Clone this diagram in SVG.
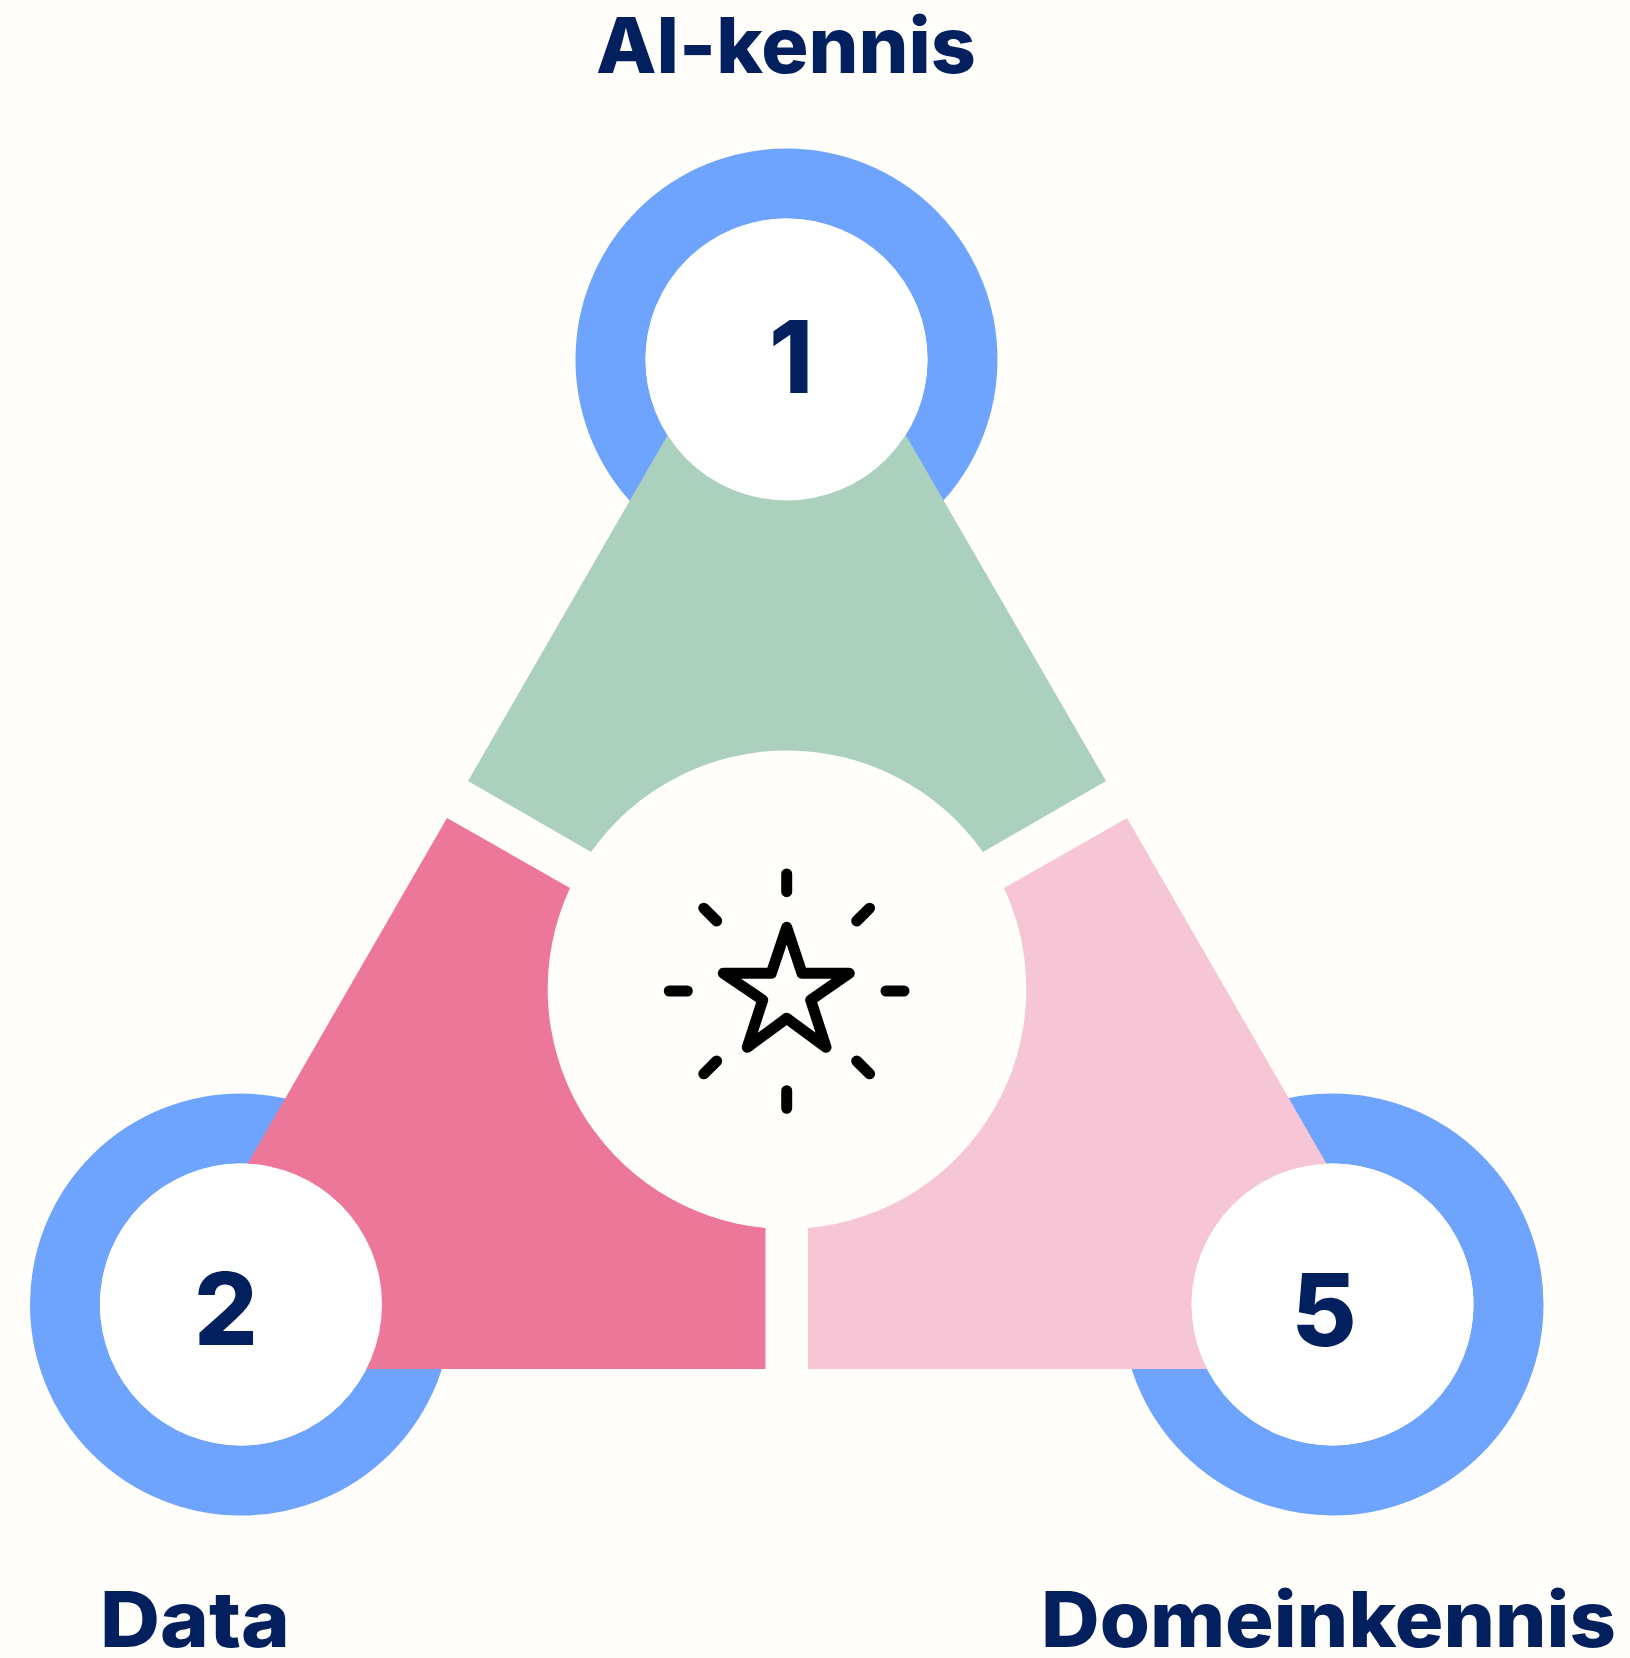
<svg xmlns="http://www.w3.org/2000/svg" width="1630" height="1658" viewBox="0 0 1630 1658">
<style>
.ring{fill:none;stroke:#6EA4FD;stroke-width:70}
.hub{fill:#fff}
.t{font-family:"Inter","Liberation Sans",sans-serif;font-weight:800;fill:#021F5E;font-size:77px}
.n{font-family:"Inter","Liberation Sans",sans-serif;font-weight:800;fill:#021F5E;font-size:100px}
.ic{fill:none;stroke:#000;stroke-width:11;stroke-linecap:round;stroke-linejoin:round}
</style>
<rect width="1630" height="1658" fill="#FFFEFB"/>
<g id="rings">
<circle class="ring" cx="786.5" cy="359.5" r="176"/>
<circle class="ring" cx="241" cy="1304.5" r="176"/>
<circle class="ring" cx="1332.5" cy="1304.5" r="176"/>
</g>
<g id="segment-top"><path fill="#ABD1BE" d="M468 781L786.5 229L1106 781L983 852A240 240 0 0 0 591 852Z"/></g>
<g id="segment-left"><path fill="#EC7799" d="M447 818L570 888A240 240 0 0 0 765.5 1228V1369H129Z"/></g>
<g id="segment-right"><path fill="#F6C6D6" d="M1127 818L1004 888A240 240 0 0 1 808 1228V1369H1445Z"/></g>
<g id="node-1"><circle class="hub" cx="786.5" cy="359.5" r="141"/><text class="n" x="791" y="393" text-anchor="middle">1</text></g>
<g id="node-2"><circle class="hub" cx="241" cy="1304.5" r="141"/><text class="n" x="226" y="1345" text-anchor="middle">2</text></g>
<g id="node-5"><circle class="hub" cx="1332.5" cy="1304.5" r="141"/><text class="n" x="1324" y="1346" text-anchor="middle">5</text></g>
<g id="star" class="ic">
<path d="M786.7 927.3L802 973.3H849.3L810.7 1000L826 1047.3L786.7 1018.3L747.3 1047.3L762.7 1000L723.3 973.3H771.3Z"/>
<path d="M786.7 874V891.7M786.7 1090.7V1108.3M669.3 991H687.3M886 991H904M703.8 908.2L716.7 921M869.6 908.2L856.7 921M716.7 1061L703.8 1073.8M856.7 1061L869.6 1073.8"/>
</g>
<g id="label-top"><text class="t" x="596" y="73" textLength="380" lengthAdjust="spacingAndGlyphs">AI-kennis</text></g>
<g id="label-left"><text class="t" x="100" y="1647" textLength="190" lengthAdjust="spacingAndGlyphs">Data</text></g>
<g id="label-right"><text class="t" x="1041" y="1647" textLength="575" lengthAdjust="spacingAndGlyphs">Domeinkennis</text></g>
</svg>
